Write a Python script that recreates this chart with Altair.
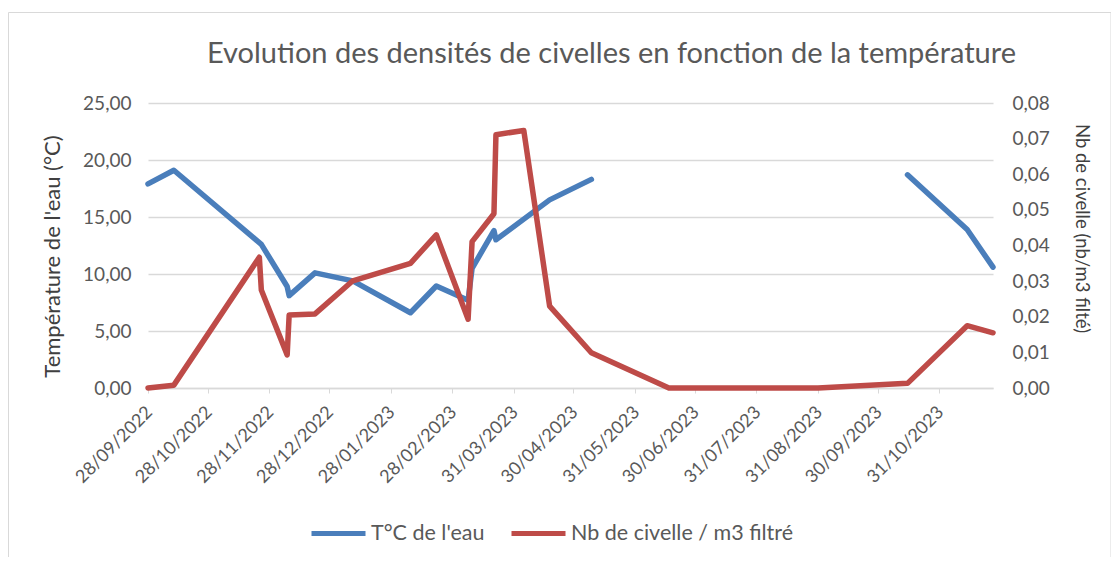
import altair as alt
import pandas as pd

# ---- data ----
temp_name = "T°C de l'eau"
dens_name = "Nb de civelle / m3 filtré"

temp_dates = ["2022-09-28", "2022-10-11", "2022-11-24", "2022-12-07", "2022-12-08",
              "2022-12-21", "2023-01-09", "2023-02-07", "2023-02-20", "2023-03-08",
              "2023-03-10", "2023-03-21", "2023-03-22", "2023-04-18", "2023-05-09",
              "2023-10-15", "2023-11-14", "2023-11-27"]
temp_values = [17.9, 19.1, 12.6, 8.9, 8.1,
               10.1, 9.4, 6.6, 8.95, 7.7,
               10.5, 13.8, 13.0, 16.5, 18.3,
               18.7, 13.9, 10.6]
temp_segment = [1] * 15 + [2] * 3

dens_dates = ["2022-09-28", "2022-10-11", "2022-11-23", "2022-11-24", "2022-12-07",
              "2022-12-08", "2022-12-21", "2023-01-09", "2023-02-07", "2023-02-20",
              "2023-03-08", "2023-03-10", "2023-03-21", "2023-03-22", "2023-04-05",
              "2023-04-18", "2023-05-09", "2023-06-17", "2023-08-31", "2023-10-15",
              "2023-11-14", "2023-11-27"]
dens_values = [0.0, 0.0008, 0.0367, 0.0275, 0.0093,
               0.0205, 0.0208, 0.0301, 0.0350, 0.0430,
               0.0193, 0.0411, 0.0489, 0.0711, 0.0723,
               0.0230, 0.0099, 0.0, 0.0, 0.0013,
               0.0175, 0.0155]

x_ticks = ["2022-09-28", "2022-10-28", "2022-11-28", "2022-12-28", "2023-01-28",
           "2023-02-28", "2023-03-31", "2023-04-30", "2023-05-31", "2023-06-30",
           "2023-07-31", "2023-08-31", "2023-09-30", "2023-10-31"]
x_domain = ["2022-09-28", "2023-11-27"]
temp_ticks = [0, 5, 10, 15, 20, 25]
dens_ticks = [0.0, 0.01, 0.02, 0.03, 0.04, 0.05, 0.06, 0.07, 0.08]

BLUE = "#4A7EBB"
RED = "#BE4B48"
TXT = "#595959"
FONT = "Lato"


def ms(s):
    return int(pd.Timestamp(s, tz="UTC").value // 10**6)


temp_df = pd.DataFrame({"date": temp_dates, "value": temp_values,
                        "segment": temp_segment, "series": temp_name})
dens_df = pd.DataFrame({"date": dens_dates, "value": dens_values,
                        "segment": 1, "series": dens_name})

num_label = "replace(format(datum.value, '.2f'), '.', ',')"

x_enc = alt.X(
    "date:T",
    scale=alt.Scale(type="utc", domain=[ms(d) for d in x_domain]),
    axis=alt.Axis(
        values=[ms(d) for d in x_ticks],
        labelExpr="utcFormat(datum.value, '%d/%m/%Y')",
        labelAngle=-45,
        labelFontSize=18,
        labelColor=TXT,
        labelPadding=10,
        labelOffset=-5,
        labelOverlap=False,
        labelBound=False,
        grid=False,
        domainColor="#d9d9d9",
        domainWidth=1.5,
        tickColor="#d9d9d9",
        tickSize=5,
        title=None,
    ),
)

color_enc = alt.Color(
    "series:N",
    scale=alt.Scale(domain=[temp_name, dens_name], range=[BLUE, RED]),
    legend=alt.Legend(
        title=None,
        orient="none",
        legendX=161,
        legendY=401,
        direction="horizontal",
        symbolType="stroke",
        symbolStrokeWidth=5,
        symbolSize=2916,
        labelFontSize=21.5,
        labelColor=TXT,
        labelFont=FONT,
        labelLimit=0,
        labelOffset=3,
        columnPadding=16,
    ),
)

frame = alt.Chart(pd.DataFrame({"k": [0]})).mark_rect(
    fillOpacity=0, stroke="#d9d9d9", strokeWidth=1
).encode(
    x=alt.value(-139.5), x2=alt.value(963), y=alt.value(-90.5), y2=alt.value(470)
)

temp_line = alt.Chart(temp_df).mark_line(
    strokeWidth=5.5, strokeCap="round", strokeJoin="round"
).encode(
    x=x_enc,
    y=alt.Y(
        "value:Q",
        scale=alt.Scale(domain=[0, 25]),
        axis=alt.Axis(
            orient="left",
            values=temp_ticks,
            labelExpr=num_label,
            labelFontSize=19,
            labelColor=TXT,
            labelPadding=17,
            domain=False,
            ticks=False,
            grid=True,
            gridColor="#d9d9d9",
            gridWidth=1.5,
            title="Température de l'eau (°C)",
            titleFontSize=22,
            titleFontWeight="normal",
            titleColor="#404040",
            titlePadding=18,
            titleY=153,
        ),
    ),
    color=color_enc,
    detail="segment:N",
)

dens_line = alt.Chart(dens_df).mark_line(
    strokeWidth=5.5, strokeCap="round", strokeJoin="round"
).encode(
    x=x_enc,
    y=alt.Y(
        "value:Q",
        scale=alt.Scale(domain=[0, 0.08]),
        axis=alt.Axis(
            orient="right",
            values=dens_ticks,
            labelExpr=num_label,
            labelFontSize=19,
            labelColor=TXT,
            labelPadding=19,
            domain=False,
            ticks=False,
            grid=False,
            title="Nb de civelle (nb/m3 filté)",
            titleFontSize=18.5,
            titleFontWeight="normal",
            titleColor="#404040",
            titlePadding=22,
            titleY=125,
        ),
    ),
    color=color_enc,
    detail="segment:N",
)

chart = alt.layer(frame, temp_line, dens_line).resolve_scale(
    y="independent"
).properties(
    width=845,
    height=285,
    autosize=alt.AutoSizeParams(type="none"),
    padding={"left": 140, "top": 95, "right": 118, "bottom": 169},
    title=alt.TitleParams(
        "Evolution des densités de civelles en fonction de la température",
        anchor="middle",
        frame="group",
        baseline="alphabetic",
        dx=41,
        dy=80,
        offset=0,
        fontSize=29,
        fontWeight="normal",
        color=TXT,
        font=FONT,
    ),
).configure(
    font=FONT,
).configure_axis(
    labelFont=FONT,
    titleFont=FONT,
).configure_view(
    stroke=None
)

chart.save("out.html", embed_options={"renderer": "svg", "actions": False})
